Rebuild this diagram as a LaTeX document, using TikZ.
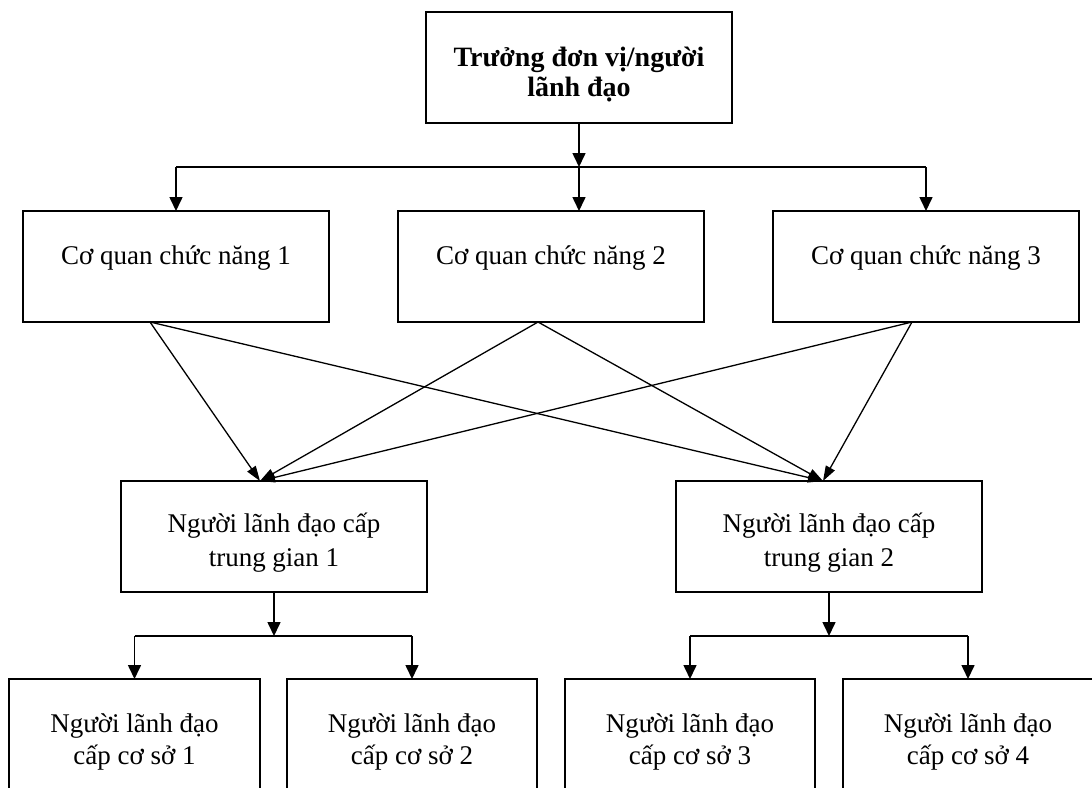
\documentclass[tikz,border=0pt]{standalone}
\usepackage{fontspec}
\setmainfont{Liberation Serif}
\usetikzlibrary{arrows.meta}
\begin{document}
\begin{tikzpicture}[x=1pt,y=-1pt,
  box/.style={draw=black, line width=1.6pt, rectangle, inner sep=0pt, outer sep=0pt},
  lbl/.style={font=\fontsize{27}{32}\selectfont, align=center, inner sep=0pt},
  conn/.style={line width=1.6pt, -{Triangle[length=14pt,width=13pt]}},
  diag/.style={line width=1.3pt, -{Triangle[length=15pt,width=10pt]}},
  wire/.style={line width=1.6pt}]
\useasboundingbox (0,0) rectangle (1092,787);
\clip (0,0) rectangle (1092,787);

% head of the unit
\node[box, minimum width=306pt, minimum height=111pt] (top) at (579,67.5) {};
\node[lbl, font=\fontsize{28}{30}\selectfont\bfseries] (topt) at (579,75) {Trưởng đơn vị/người\\lãnh đạo};

% functional bodies
\node[box, minimum width=306pt, minimum height=111pt] (m1) at (176,266.5) {};
\node[box, minimum width=306pt, minimum height=111pt] (m2) at (551,266.5) {};
\node[box, minimum width=306pt, minimum height=111pt] (m3) at (926,266.5) {};
\node[lbl, anchor=base] (m1t) at (176,264) {Cơ quan chức năng 1};
\node[lbl, anchor=base] (m2t) at (551,264) {Cơ quan chức năng 2};
\node[lbl, anchor=base] (m3t) at (926,264) {Cơ quan chức năng 3};

% middle managers
\node[box, minimum width=306pt, minimum height=111pt] (i1) at (274,536.5) {};
\node[box, minimum width=306pt, minimum height=111pt] (i2) at (829,536.5) {};
\node[lbl, font=\fontsize{27}{34}\selectfont] (i1t) at (274,543) {Người lãnh đạo cấp\\trung gian 1};
\node[lbl, font=\fontsize{27}{34}\selectfont] (i2t) at (829,543) {Người lãnh đạo cấp\\trung gian 2};

% first-line managers (boxes run past the lower edge)
\node[box, minimum width=251pt, minimum height=150pt] (b1) at (134.5,754) {};
\node[box, minimum width=250pt, minimum height=150pt] (b2) at (412,754) {};
\node[box, minimum width=250pt, minimum height=150pt] (b3) at (690,754) {};
\node[box, minimum width=250pt, minimum height=150pt] (b4) at (968,754) {};
\node[lbl] (b1t) at (134.5,742) {Người lãnh đạo\\cấp cơ sở 1};
\node[lbl] (b2t) at (412,742) {Người lãnh đạo\\cấp cơ sở 2};
\node[lbl] (b3t) at (690,742) {Người lãnh đạo\\cấp cơ sở 3};
\node[lbl] (b4t) at (968,742) {Người lãnh đạo\\cấp cơ sở 4};

% top-level distribution
\coordinate (hub) at (579,167);
\draw[conn] (top.south) -- (hub);
\draw[wire] (m1.north |- hub) -- (m3.north |- hub);
\draw[conn] (m1.north |- hub) -- (m1.north);
\draw[conn] (hub) -- (hub |- m2.north);
\draw[conn] (m3.north |- hub) -- (m3.north);

% cross links from functional bodies to middle managers
\coordinate (m1o) at ([xshift=-26pt]m1.south);
\coordinate (m2o) at ([xshift=-13pt]m2.south);
\coordinate (m3o) at ([xshift=-14pt]m3.south);
\coordinate (i1in) at ([xshift=-14pt]i1.north);
\coordinate (i2in) at ([xshift=-6pt]i2.north);
\foreach \s in {m1o,m2o,m3o}{
  \draw[diag] (\s) -- (i1in);
  \draw[diag] (\s) -- (i2in);
}

% middle managers to first-line managers
\coordinate (j1) at (274,636);
\coordinate (j2) at (829,636);
\draw[conn] (i1.south) -- (j1);
\draw[wire] (b1.north |- j1) -- (b2.north |- j1);
\draw[conn] (b1.north |- j1) -- (b1.north);
\draw[conn] (b2.north |- j1) -- (b2.north);
\draw[conn] (i2.south) -- (j2);
\draw[wire] (b3.north |- j2) -- (b4.north |- j2);
\draw[conn] (b3.north |- j2) -- (b3.north);
\draw[conn] (b4.north |- j2) -- (b4.north);
\end{tikzpicture}
\end{document}
